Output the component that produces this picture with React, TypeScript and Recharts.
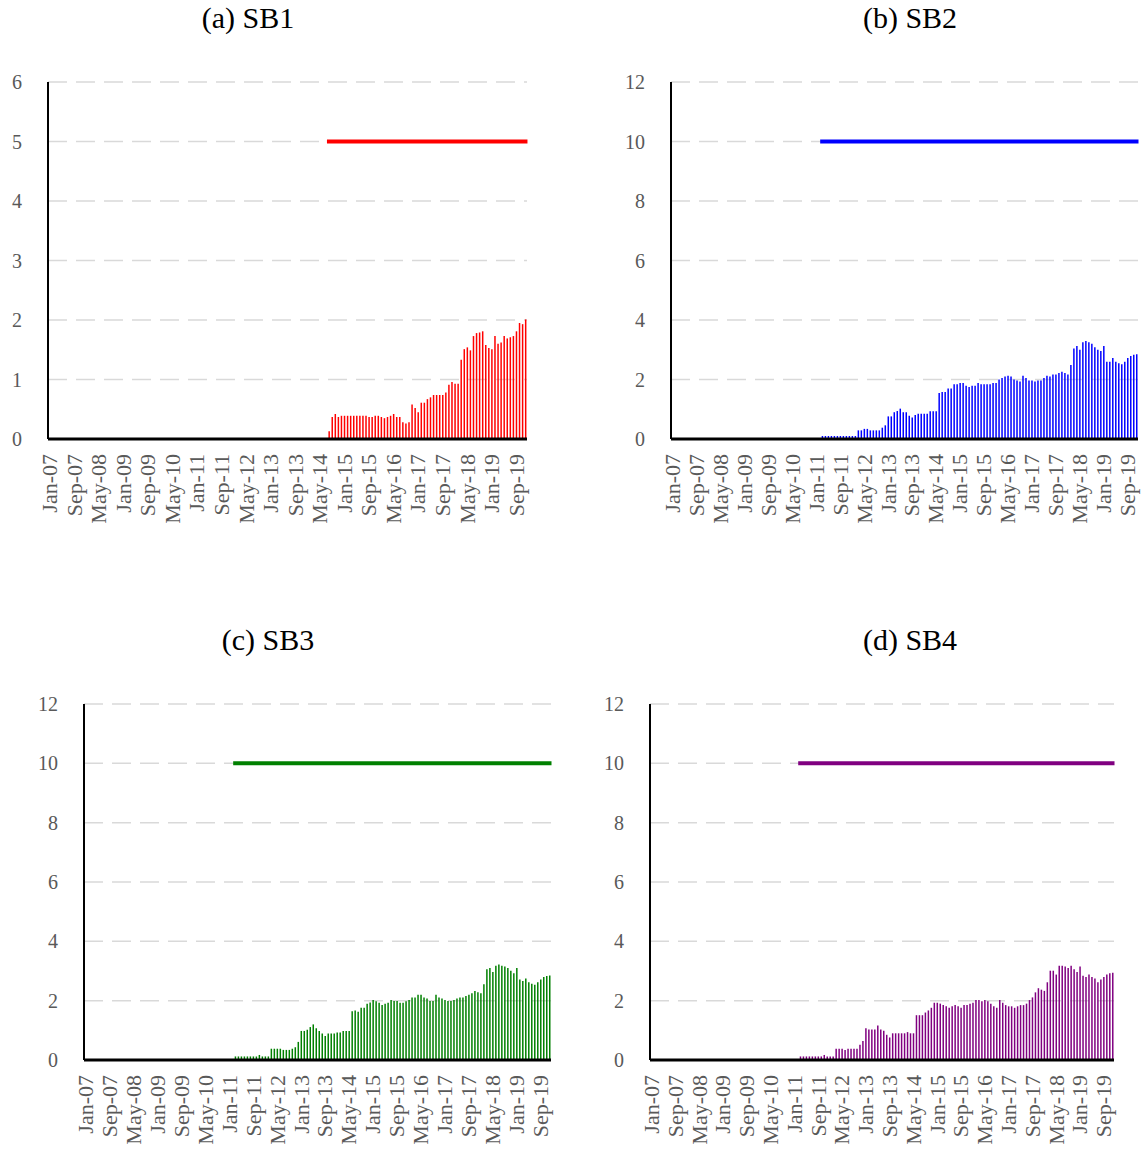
import React from 'react';
import { ComposedChart, Bar, Line, XAxis, YAxis, CartesianGrid } from 'recharts';

const MONTHS = ['Jan', 'Feb', 'Mar', 'Apr', 'May', 'Jun', 'Jul', 'Aug', 'Sep', 'Oct', 'Nov', 'Dec'];
const YEARS = ['07', '08', '09', '10', '11', '12', '13', '14', '15', '16', '17', '18', '19'];
const categories: string[] = YEARS.flatMap((y) => MONTHS.map((m) => `${m}-${y}`));

const SB1_START = 'Aug-14';
const SB1_LIMIT = 5;
const sb1 = [
  0.13, 0.37, 0.42, 0.37, 0.39, 0.39, 0.39, 0.39, 0.39, 0.39,
  0.39, 0.39, 0.39, 0.37, 0.37, 0.39, 0.39, 0.37, 0.35, 0.37,
  0.39, 0.42, 0.37, 0.37, 0.28, 0.26, 0.28, 0.58, 0.52, 0.45,
  0.61, 0.61, 0.67, 0.70, 0.74, 0.74, 0.74, 0.74, 0.78, 0.91,
  0.96, 0.93, 0.93, 1.33, 1.51, 1.54, 1.49, 1.73, 1.78, 1.79,
  1.81, 1.58, 1.53, 1.51, 1.73, 1.60, 1.62, 1.73, 1.69, 1.71,
  1.73, 1.81, 1.95, 1.93, 2.01,
];

const SB2_START = 'Mar-11';
const SB2_LIMIT = 10;
const sb2 = [
  0.1, 0.1, 0.1, 0.1, 0.1, 0.1, 0.1, 0.1, 0.1, 0.1, 0.1, 0.1,
  0.29, 0.29, 0.34, 0.34, 0.29, 0.29, 0.29, 0.29, 0.38, 0.46,
  0.76, 0.76, 0.90, 0.94, 1.02, 0.90, 0.90, 0.78, 0.72, 0.81,
  0.85, 0.85, 0.85, 0.85, 0.93, 0.93, 0.93, 1.55, 1.58, 1.58,
  1.70, 1.70, 1.84, 1.84, 1.88, 1.88, 1.79, 1.75, 1.79, 1.79,
  1.88, 1.84, 1.84, 1.84, 1.84, 1.88, 1.88, 2.0, 2.05, 2.10,
  2.13, 2.10, 2.0, 1.97, 1.93, 2.13, 2.05, 1.97, 1.97, 1.93,
  1.97, 1.97, 2.05, 2.13, 2.10, 2.17, 2.17, 2.22, 2.26, 2.22,
  2.17, 2.49, 3.04, 3.13, 3.0, 3.25, 3.29, 3.25, 3.20, 3.08,
  3.0, 2.96, 3.13, 2.60, 2.60, 2.72, 2.60, 2.55, 2.51, 2.60,
  2.72, 2.79, 2.83, 2.85,
];

const SB3_START = 'Mar-11';
const SB3_LIMIT = 10;
const sb3 = [
  0.12, 0.12, 0.12, 0.12, 0.12, 0.12, 0.12, 0.12, 0.17, 0.12, 0.12, 0.12,
  0.38, 0.38, 0.38, 0.38, 0.34, 0.34, 0.34, 0.38, 0.43, 0.61,
  0.98, 0.98, 1.02, 1.11, 1.20, 1.07, 0.98, 0.89, 0.81, 0.89,
  0.89, 0.89, 0.93, 0.93, 0.98, 0.98, 0.98, 1.64, 1.67, 1.63,
  1.76, 1.76, 1.90, 1.94, 2.02, 1.98, 1.93, 1.85, 1.90, 1.93,
  2.02, 1.99, 1.99, 1.93, 1.93, 1.98, 2.02, 2.11, 2.11, 2.20,
  2.20, 2.11, 2.07, 1.99, 1.99, 2.20, 2.11, 2.07, 2.02, 1.99,
  1.99, 2.02, 2.07, 2.11, 2.11, 2.16, 2.20, 2.25, 2.33, 2.28,
  2.25, 2.55, 3.06, 3.10, 2.97, 3.18, 3.22, 3.18, 3.15, 3.10,
  3.01, 2.92, 3.10, 2.71, 2.66, 2.75, 2.62, 2.57, 2.54, 2.62,
  2.71, 2.80, 2.83, 2.85,
];

const SB4_START = 'Mar-11';
const SB4_LIMIT = 10;
const sb4 = [
  0.12, 0.12, 0.12, 0.12, 0.12, 0.12, 0.12, 0.12, 0.17, 0.12, 0.12, 0.12,
  0.38, 0.38, 0.38, 0.34, 0.38, 0.38, 0.38, 0.38, 0.51, 0.64,
  1.07, 1.03, 1.03, 1.03, 1.16, 1.03, 0.99, 0.85, 0.76, 0.90,
  0.90, 0.90, 0.90, 0.90, 0.94, 0.90, 0.90, 1.51, 1.51, 1.51,
  1.60, 1.67, 1.76, 1.93, 1.93, 1.90, 1.85, 1.81, 1.76, 1.81,
  1.85, 1.81, 1.76, 1.85, 1.85, 1.90, 1.93, 2.02, 2.02, 1.98,
  2.02, 1.98, 1.90, 1.81, 1.76, 2.02, 1.93, 1.85, 1.81, 1.81,
  1.76, 1.81, 1.85, 1.85, 1.90, 2.02, 2.11, 2.28, 2.42, 2.37,
  2.33, 2.62, 3.01, 3.01, 2.88, 3.18, 3.18, 3.15, 3.10, 3.18,
  3.06, 2.97, 3.15, 2.84, 2.80, 2.88, 2.80, 2.75, 2.62, 2.71,
  2.80, 2.88, 2.92, 2.94,
];

const TICKS_A = [0, 1, 2, 3, 4, 5, 6];
const TICKS_B = [0, 2, 4, 6, 8, 10, 12];

const FONT = '"Liberation Serif", "Times New Roman", serif';

function buildData(values: number[], start: string, limit: number) {
  const s = categories.indexOf(start);
  return categories.map((c, i) => ({
    month: c,
    value: i >= s && i - s < values.length ? values[i - s] : null,
    limit: i >= s ? limit : null,
  }));
}

type PanelProps = {
  title: string;
  titleX: number;
  titleY: number;
  values: number[];
  start: string;
  limit: number;
  color: string;
  ticks: number[];
  chartLeft: number;
  chartTop: number;
  plotLeft: number;
  plotRight: number;
  plotTop: number;
  plotBottom: number;
};

function Panel(p: PanelProps) {
  const data = buildData(p.values, p.start, p.limit);
  const width = p.plotRight - p.chartLeft + 6;
  const xAxisH = 100;
  const height = p.plotBottom - p.chartTop + xAxisH;
  const yAxisW = p.plotLeft - p.chartLeft;
  const maxT = p.ticks[p.ticks.length - 1];

  const YTick = (props: any) => {
    const { y, payload } = props;
    return (
      <text x={yAxisW - 26} y={y} textAnchor="end" dominantBaseline="central" fill="#595959" fontSize={20} fontFamily={FONT}>
        {payload.value}
      </text>
    );
  };
  const XTick = (props: any) => {
    const { x, y, payload } = props;
    const ty = y + 7;
    return (
      <text x={x} y={ty} transform={`rotate(-90, ${x}, ${ty})`} textAnchor="end" dominantBaseline="central" fill="#595959" fontSize={22} fontFamily={FONT}>
        {payload.value}
      </text>
    );
  };

  return (
    <>
      <div
        style={{
          position: 'absolute',
          left: p.titleX - 100,
          top: p.titleY - 17,
          width: 200,
          textAlign: 'center',
          fontFamily: FONT,
          fontSize: 30,
          lineHeight: '34px',
          color: '#000',
        }}
      >
        {p.title}
      </div>
      <div style={{ position: 'absolute', left: p.chartLeft, top: p.chartTop }}>
        <ComposedChart
          width={width}
          height={height}
          data={data}
          margin={{ top: p.plotTop - p.chartTop, right: 6, bottom: 0, left: 0 }}
        >
          <CartesianGrid horizontal vertical={false} stroke="#D9D9D9" strokeWidth={1.5} strokeDasharray="19 9" />
          <XAxis
            dataKey="month"
            interval={7}
            tickLine={false}
            axisLine={{ stroke: '#000', strokeWidth: 3 }}
            height={xAxisH}
            tick={<XTick />}
          />
          <YAxis
            domain={[0, maxT]}
            ticks={p.ticks}
            width={yAxisW}
            tickLine={false}
            axisLine={{ stroke: '#000', strokeWidth: 2 }}
            tick={<YTick />}
            allowDataOverflow
          />
          <Bar dataKey="value" fill={p.color} barSize={1.5} isAnimationActive={false} />
          <Line
            dataKey="limit"
            stroke={p.color}
            strokeWidth={4}
            strokeLinecap="square"
            dot={false}
            activeDot={false}
            isAnimationActive={false}
            connectNulls={false}
          />
        </ComposedChart>
      </div>
    </>
  );
}

export default function App() {
  return (
    <div style={{ position: 'absolute', left: 0, top: 0, width: 1148, height: 1154, background: '#fff', overflow: 'hidden' }}>
      <Panel title="(a) SB1" titleX={248} titleY={18} values={sb1} start={SB1_START} limit={SB1_LIMIT} color="#FF0000" ticks={TICKS_A}
        chartLeft={0} chartTop={60} plotLeft={48} plotRight={527} plotTop={82} plotBottom={439} />
      <Panel title="(b) SB2" titleX={910} titleY={18} values={sb2} start={SB2_START} limit={SB2_LIMIT} color="#0000FF" ticks={TICKS_B}
        chartLeft={580} chartTop={60} plotLeft={671} plotRight={1138} plotTop={82} plotBottom={439} />
      <Panel title="(c) SB3" titleX={268} titleY={640} values={sb3} start={SB3_START} limit={SB3_LIMIT} color="#008000" ticks={TICKS_B}
        chartLeft={0} chartTop={682} plotLeft={84} plotRight={551} plotTop={704} plotBottom={1060} />
      <Panel title="(d) SB4" titleX={910} titleY={640} values={sb4} start={SB4_START} limit={SB4_LIMIT} color="#800080" ticks={TICKS_B}
        chartLeft={580} chartTop={682} plotLeft={650} plotRight={1114} plotTop={704} plotBottom={1060} />
    </div>
  );
}
